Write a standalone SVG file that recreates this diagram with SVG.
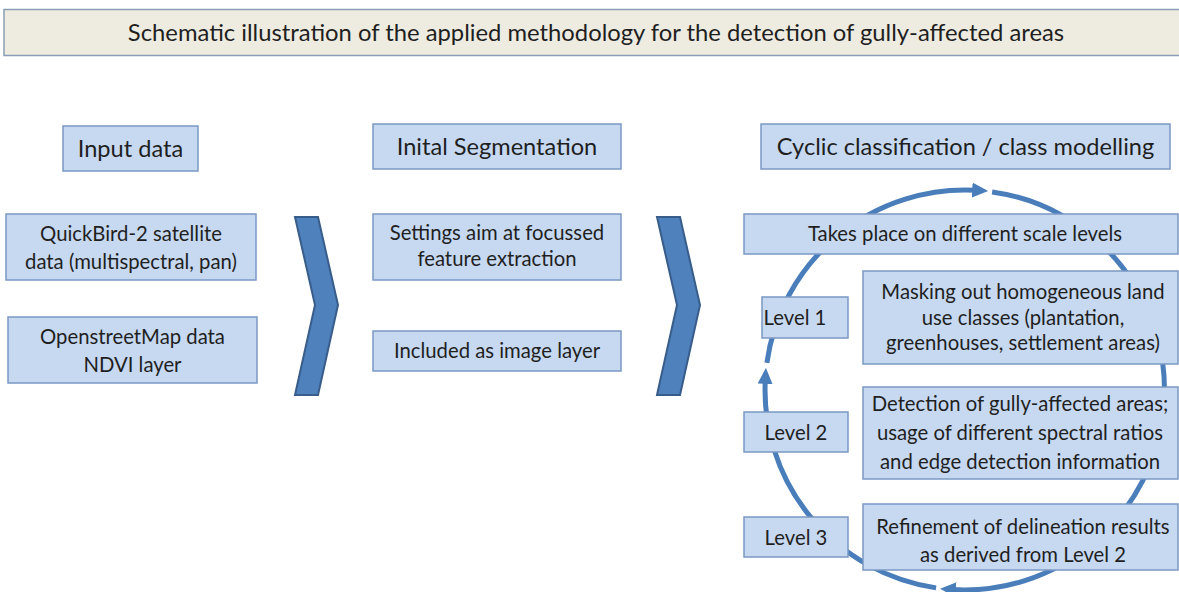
<svg xmlns="http://www.w3.org/2000/svg" width="1179" height="592" viewBox="0 0 1179 592">
<defs>
<style>
.box{fill:#c6d9f1;stroke:#7b98c4;stroke-width:1.5}
.title{fill:#eeece1;stroke:#8b9db6;stroke-width:1.5}
.chev{fill:#4f81bd;stroke:#385d8a;stroke-width:2;stroke-linejoin:miter}
.cyc{fill:none;stroke:#4a7ebb;stroke-width:5}
text{font-family:Lato,"Liberation Sans",sans-serif;fill:#1f1f1f;text-anchor:middle}
.t{font-size:20.3px}
.h{font-size:23.6px}
.tt{font-size:23.8px}
</style>
<marker id="ah" viewBox="0 0 16 15" refX="4" refY="7.5" markerWidth="16" markerHeight="15" markerUnits="userSpaceOnUse" orient="auto">
<path d="M0,0 L16,7.5 L0,15 z" fill="#4a7ebb"/>
</marker>
</defs>
<rect width="1179" height="592" fill="#ffffff"/>
<g id="connectors">
<path class="cyc" d="M766.9,362.9 A200,200 0 0 1 976.2,190.3" marker-end="url(#ah)"/>
<path class="cyc" d="M992.1,191.9 A200,200 0 0 1 952.1,589.6" marker-end="url(#ah)"/>
<path class="cyc" d="M936.1,587.9 A200,200 0 0 1 765.3,379.9" marker-end="url(#ah)"/>
</g>
<g id="title">
<rect class="title" x="4" y="9.5" width="1190" height="46"/>
<text class="tt" x="596" y="41">Schematic illustration of the applied methodology for the detection of gully-affected areas</text>
</g>
<g id="input-data">
<rect class="box" x="63" y="126" width="135" height="45"/>
<text class="h" x="130.5" y="156.5">Input data</text>
</g>
<g id="quickbird">
<rect class="box" x="6" y="214" width="250" height="66"/>
<text class="t" x="131" y="240.5">QuickBird-2 satellite</text>
<text class="t" x="131" y="268.5">data (multispectral, pan)</text>
</g>
<g id="osm">
<rect class="box" x="8" y="317" width="249" height="66"/>
<text class="t" x="132.5" y="343.5">OpenstreetMap data</text>
<text class="t" x="132.5" y="371.5">NDVI layer</text>
</g>
<g id="chevron1">
<polygon class="chev" points="295,217 318,217 338,305 318,395 295,395 315,305"/>
</g>
<g id="initial-segmentation">
<rect class="box" x="373" y="124" width="248" height="45"/>
<text class="h" x="497" y="154.5">Inital Segmentation</text>
</g>
<g id="settings">
<rect class="box" x="373" y="214" width="248" height="66"/>
<text class="t" x="497" y="239.5">Settings aim at focussed</text>
<text class="t" x="497" y="265.5">feature extraction</text>
</g>
<g id="included">
<rect class="box" x="373" y="331" width="248" height="40"/>
<text class="t" x="497" y="357.5">Included as image layer</text>
</g>
<g id="chevron2">
<polygon class="chev" points="657,217 680,217 700,305 680,395 657,395 677,305"/>
</g>
<g id="cyclic">
<rect class="box" x="761" y="124" width="409" height="45"/>
<text class="h" x="965.5" y="154.5">Cyclic classification / class modelling</text>
</g>
<g id="scale-levels">
<rect class="box" x="744" y="214" width="434" height="40"/>
<text class="t" x="965" y="240.5">Takes place on  different scale levels</text>
</g>
<g id="level1">
<rect class="box" x="762" y="297" width="86" height="41"/>
<text class="t" x="795" y="324.5">Level 1</text>
</g>
<g id="masking">
<rect class="box" x="863" y="271" width="315" height="93"/>
<text class="t" x="1023" y="299">Masking out  homogeneous  land</text>
<text class="t" x="1023" y="324.5">use classes (plantation,</text>
<text class="t" x="1023" y="350">greenhouses, settlement areas)</text>
</g>
<g id="level2">
<rect class="box" x="744" y="412" width="104" height="40"/>
<text class="t" x="796" y="439.5">Level 2</text>
</g>
<g id="detection">
<rect class="box" x="863" y="387" width="315" height="92"/>
<text class="t" x="1020" y="410.5">Detection of gully-affected areas;</text>
<text class="t" x="1020" y="440">usage of different spectral ratios</text>
<text class="t" x="1020" y="468.5">and edge detection  information</text>
</g>
<g id="level3">
<rect class="box" x="744" y="517" width="104" height="40"/>
<text class="t" x="796" y="544.5">Level 3</text>
</g>
<g id="refinement">
<rect class="box" x="863" y="504" width="315" height="66"/>
<text class="t" x="1023" y="533.5">Refinement of delineation results</text>
<text class="t" x="1023" y="561.5">as derived from  Level 2</text>
</g>
</svg>
